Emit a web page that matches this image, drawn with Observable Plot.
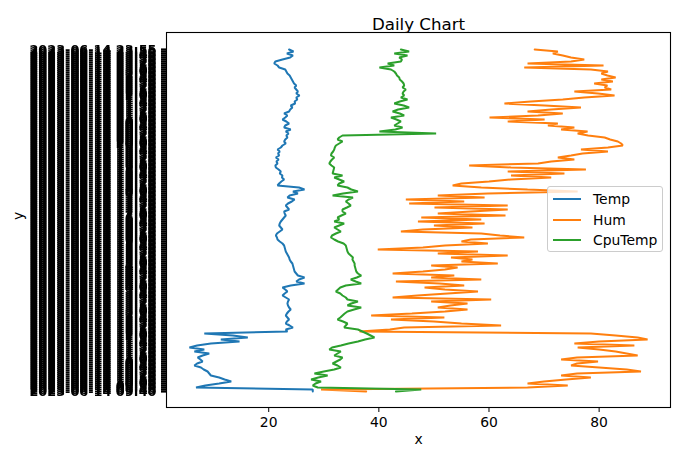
<!DOCTYPE html>
<html>
<head>
<meta charset="utf-8">
<script src="https://cdn.jsdelivr.net/npm/d3@7"></script>
<script src="https://cdn.jsdelivr.net/npm/@observablehq/plot@0.6"></script>
<style>
  html, body { margin: 0; padding: 0; background: white; }
  #wrap { position: relative; width: 680px; height: 460px; font-family: "DejaVu Sans", sans-serif; }
  #wrap svg g[aria-label="y-axis tick label"] { filter: url(#grayText); }
  #wrap svg g[aria-label="y-axis tick label"] text { font-weight: bold; font-size: 12.8px; }
  #wrap svg g[aria-label="y-axis tick"] path { stroke-width: 2.2px; }
  #legend { position: absolute; left: 547px; top: 186px; width: 114px; height: 64px;
    background: rgba(255,255,255,0.8); border: 1px solid #cccccc; border-radius: 3px; }
  .item { position: absolute; left: 0; height: 20px; display: flex; align-items: center; font-size: 13.9px; color: black; }
  .sw { position: absolute; left: 5px; width: 28px; height: 0; border-top: 2px solid; }
  .lab { position: absolute; left: 45px; white-space: nowrap; }
</style>
</head>
<body>
<svg width="0" height="0" style="position:absolute">
  <filter id="grayText" x="0" y="0" width="1" height="1" color-interpolation-filters="sRGB">
    <feColorMatrix type="saturate" values="0"/>
  </filter>
</svg>
<div id="wrap"></div>
<script>
const day = "2023-06-14";
const times = [
  "09:40","09:45","09:50","09:55",
  "10:00","10:05","10:10","10:15","10:20","10:25","10:30","10:35","10:40","10:45","10:50","10:55",
  "11:00","11:05","11:10","11:15","11:20","11:25","11:30","11:35","11:40","11:45","11:50","11:55",
  "12:00","12:05","12:10","12:15","12:20","12:25","12:30","12:35","12:40","12:45","12:50","12:55",
  "13:00","13:05","13:10","13:15","13:20","13:25","13:30","13:35","13:40","13:45","13:50","13:55",
  "14:00","14:05","14:10","14:15","14:20","14:25","14:30","14:35","14:40","14:45","14:50","14:55",
  "15:00","15:05","15:10","15:15","15:20","15:25","15:30","15:35","15:40","15:45","15:50","15:55",
  "16:00","16:05","16:10","16:15","16:20","16:25","16:30","16:35","16:40","16:45","16:50","16:55",
  "17:00","17:05","17:10","17:15","17:20","17:25","17:30","17:35","17:40","17:45","17:50","17:55",
  "18:00","18:05","18:10","18:15","18:20","18:25","18:30","18:35","18:40","18:45","18:50","18:55",
  "19:00","19:05","19:10","19:15","19:20","19:25","19:30","19:35","19:40","19:45","19:50","19:55",
  "20:00","20:05","20:10","20:15","20:20","20:25","20:30","20:35","20:40","20:45","20:50","20:55",
  "21:00","21:05","21:10","21:15","21:20","21:25","21:30","21:35","21:40","21:45","21:50","21:55",
  "22:00","22:05","22:10","22:15","22:20","22:25","22:30","22:35","22:40","22:45","22:50","22:55",
  "23:00","23:05","23:10","23:15","23:20","23:25","23:30","23:35","23:40","23:45","23:50","23:55"
];

const temp = [
  28.0, 28.0, 6.8, 8.5, 11.0, 13.2, 12.0, 11.0, 9.5, 9.2,
  8.9, 8.2, 7.7, 6.5, 7.0, 8.0, 7.6, 7.1, 8.0, 9.2,
  6.5, 8.3, 5.6, 7.0, 9.5, 14.7, 11.3, 16.2, 13.5, 8.3,
  23.4, 23.1, 24.4, 23.8, 23.1, 23.3, 23.7, 23.4, 23.1, 23.3,
  23.6, 24.0, 23.7, 23.5, 23.4, 23.5, 23.7, 23.1, 22.5, 22.9,
  23.4, 23.0, 22.5, 24.0, 26.5, 25.0, 25.5, 26.5, 25.3, 25.0,
  24.7, 24.6, 24.5, 24.4, 24.3, 24.0, 23.8, 23.7, 23.5, 23.3,
  23.1, 23.0, 22.9, 22.8, 22.5, 22.0, 21.6, 21.5, 21.3, 21.5,
  22.0, 22.5, 22.2, 21.9, 22.0, 22.2, 22.5, 22.8, 23.1, 22.9,
  22.8, 23.7, 23.4, 23.1, 23.5, 24.2, 24.7, 23.4, 23.8, 25.3,
  24.4, 26.5, 25.5, 21.6, 21.9, 22.3, 22.8, 22.4, 22.5, 22.0,
  22.2, 21.8, 21.3, 21.2, 21.6, 21.4, 21.8, 21.3, 21.9, 21.7,
  22.0, 21.6, 22.2, 22.5, 23.1, 22.8, 23.0, 23.4, 23.2, 23.6,
  23.1, 24.0, 22.8, 23.0, 23.7, 23.2, 22.5, 23.0, 23.4, 22.8,
  23.7, 23.9, 24.3, 24.0, 24.8, 24.7, 25.2, 25.0, 25.6, 25.0,
  25.3, 25.0, 24.7, 25.0, 24.6, 24.4, 24.2, 24.0, 23.8, 23.4,
  23.2, 23.0, 21.9, 21.6, 21.0, 21.2, 22.5, 23.9, 24.4, 23.3,
  24.5, 23.7
];

const hum = [
  37.7, 29.5, 67.0, 74.3, 67.0, 70.0, 74.0, 78.5, 73.1, 76.0,
  87.6, 85.0, 80.0, 74.9, 76.0, 79.8, 73.1, 76.0, 87.0, 85.0,
  83.0, 80.0, 76.1, 86.4, 75.5, 80.0, 88.8, 87.0, 83.0, 78.5,
  36.5, 42.0, 44.6, 62.2, 55.0, 50.0, 42.2, 51.9, 38.6, 46.0,
  52.0, 56.1, 50.7, 53.0, 56.1, 49.5, 60.4, 42.5, 47.0, 52.5,
  58.0, 52.0, 48.3, 55.5, 51.0, 43.1, 58.6, 49.5, 53.7, 42.5,
  48.0, 52.0, 54.3, 49.5, 61.6, 55.0, 57.0, 53.1, 63.4, 50.7,
  58.0, 39.8, 48.0, 52.0, 59.8, 55.0, 56.7, 66.4, 62.0, 58.6,
  44.0, 48.0, 57.0, 50.0, 59.2, 47.1, 58.6, 47.7, 63.0, 50.7,
  56.7, 63.4, 50.1, 63.4, 45.5, 55.5, 44.9, 59.2, 50.7, 59.8,
  76.1, 67.0, 58.6, 53.4, 55.0, 60.0, 64.0, 71.3, 64.0, 73.7,
  63.4, 77.6, 64.0, 56.4, 68.9, 71.3, 75.5, 72.5, 74.9, 77.0,
  81.6, 76.7, 81.6, 84.3, 84.0, 83.4, 82.0, 81.0, 78.0, 76.1,
  77.9, 73.1, 75.5, 70.7, 72.5, 63.4, 70.1, 60.1, 68.9, 73.4,
  67.0, 71.3, 76.7, 70.1, 62.8, 67.6, 73.4, 77.3, 82.8, 79.8,
  75.5, 82.2, 81.0, 81.5, 79.1, 82.5, 80.4, 83.0, 81.5, 80.4,
  81.6, 78.5, 66.4, 80.8, 67.0, 74.9, 77.3, 74.9, 73.4, 71.6,
  72.5, 68.3
];

const cpuTemp = [
  43.1, 47.7, 28.9, 28.0, 28.5, 29.5, 27.7, 29.0, 30.7, 28.3,
  30.0, 31.9, 33.1, 32.5, 31.6, 32.3, 33.0, 33.4, 31.9, 32.5,
  33.1, 31.0, 31.5, 33.1, 34.5, 36.2, 37.5, 39.2, 38.5, 37.8,
  37.0, 36.2, 33.7, 34.0, 34.3, 33.5, 32.5, 33.0, 33.4, 33.8,
  34.3, 35.5, 36.8, 34.3, 35.0, 36.2, 34.3, 34.0, 33.4, 33.0,
  32.2, 32.6, 33.0, 34.0, 36.8, 35.8, 34.9, 36.0, 36.8, 36.2,
  35.9, 35.8, 35.7, 35.6, 35.6, 35.4, 35.2, 35.3, 34.9, 34.5,
  34.3, 34.2, 34.1, 34.0, 33.6, 32.6, 31.9, 31.3, 31.5, 32.2,
  33.1, 32.5, 31.9, 32.8, 33.7, 31.9, 32.8, 32.5, 33.2, 34.0,
  33.4, 33.4, 34.2, 34.9, 34.5, 34.0, 34.5, 35.3, 31.6, 33.5,
  36.2, 35.0, 34.3, 32.5, 32.8, 33.7, 32.8, 31.9, 33.4, 31.6,
  31.7, 31.8, 31.9, 31.4, 31.0, 31.2, 31.5, 31.9, 31.3, 31.4,
  31.7, 31.9, 32.0, 32.2, 32.8, 33.4, 32.5, 32.8, 33.4, 50.4,
  40.1, 43.0, 44.3, 42.8, 43.4, 44.0, 43.2, 42.2, 44.6, 43.8,
  42.5, 43.5, 45.5, 44.5, 42.8, 43.8, 45.2, 44.0, 44.6, 44.3,
  44.5, 44.9, 44.3, 44.6, 44.5, 44.2, 43.8, 43.7, 43.3, 43.1,
  42.8, 42.2, 40.1, 42.8, 41.6, 44.0, 44.2, 43.7, 45.2, 42.8,
  45.5, 44.0
];

const seriesNames = ["Temp", "Hum", "CpuTemp"];
const seriesColors = ["#1f77b4", "#ff7f0e", "#2ca02c"];
const xTicks = [20, 40, 60, 80];

[temp, hum, cpuTemp].forEach((s, k) => {
  if (s.length !== times.length) throw new Error(seriesNames[k] + " length " + s.length + " vs " + times.length);
});

const rowsOf = vals => vals.map((v, i) => ({t: times[i], v}));
const all = temp.concat(hum, cpuTemp);
const [lo, hi] = d3.extent(all);
const pad = (hi - lo) * 0.05;

const chart = Plot.plot({
  width: 680,
  height: 460,
  marginLeft: 166,
  marginRight: 10,
  marginTop: 32,
  marginBottom: 53,
  style: {background: "white", color: "black", fontFamily: "DejaVu Sans, sans-serif", fontSize: "13.9px"},
  x: {domain: [lo - pad, hi + pad], ticks: xTicks, tickSize: 5, tickPadding: 5, label: null},
  y: {type: "point", domain: times, reverse: true, padding: 8.25, ticks: times, tickSize: 5, tickPadding: 5,
      tickFormat: t => `${day} ${t}`, label: null},
  marks: [
    Plot.line(rowsOf(temp), {x: "v", y: "t", stroke: seriesColors[0], strokeWidth: 2, strokeLinejoin: "miter"}),
    Plot.line(rowsOf(hum), {x: "v", y: "t", stroke: seriesColors[1], strokeWidth: 2, strokeLinejoin: "miter"}),
    Plot.line(rowsOf(cpuTemp), {x: "v", y: "t", stroke: seriesColors[2], strokeWidth: 2, strokeLinejoin: "miter"}),
    Plot.frame({stroke: "black", strokeWidth: 1.1}),
    Plot.text(["Daily Chart"], {text: d => d, frameAnchor: "top", dy: -14, fontSize: 16.67, fill: "black"}),
    Plot.text(["x"], {text: d => d, frameAnchor: "bottom", dy: 36, fontSize: 13.9, fill: "black"}),
    Plot.text(["y"], {text: d => d, frameAnchor: "left", dx: -148, rotate: -90, fontSize: 13.9, fill: "black"})
  ]
});

const wrap = document.getElementById("wrap");
wrap.appendChild(chart);

const legend = document.createElement("div");
legend.id = "legend";
seriesNames.forEach((name, k) => {
  const item = document.createElement("div");
  item.className = "item";
  item.style.top = (2 + k * 20.5) + "px";
  const sw = document.createElement("span");
  sw.className = "sw";
  sw.style.borderTopColor = seriesColors[k];
  const lab = document.createElement("span");
  lab.className = "lab";
  lab.textContent = name;
  item.appendChild(sw);
  item.appendChild(lab);
  legend.appendChild(item);
});
wrap.appendChild(legend);
</script>
</body>
</html>
